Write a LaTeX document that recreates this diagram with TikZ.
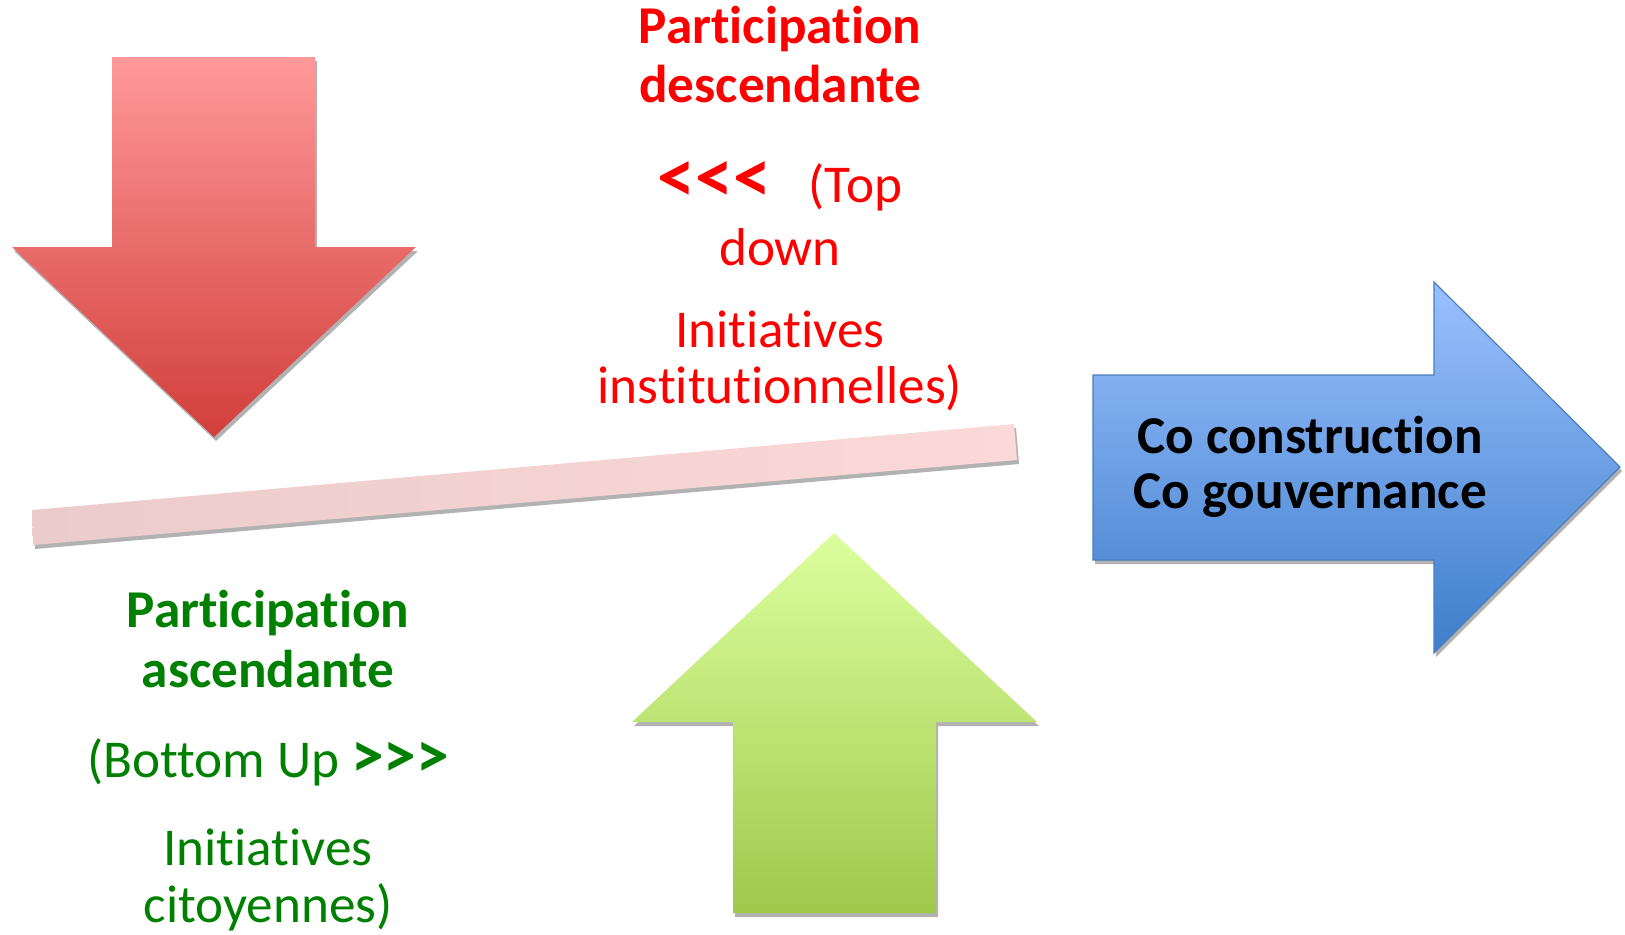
\documentclass[tikz,border=0pt]{standalone}
\usepackage{fontspec}
\setmainfont{Carlito}[Ligatures={TeXOff,NoCommon}]
\usetikzlibrary{shadows}
\definecolor{rougeH}{RGB}{255,153,153}
\definecolor{rougeB}{RGB}{209,62,58}
\definecolor{vertH}{RGB}{220,255,158}
\definecolor{vertB}{RGB}{160,200,75}
\definecolor{bleuH}{RGB}{154,192,254}
\definecolor{bleuB}{RGB}{62,126,203}
\definecolor{bleuT}{RGB}{74,126,187}
\definecolor{barreG}{RGB}{235,203,203}
\definecolor{barreD}{RGB}{252,217,217}
\definecolor{vertT}{RGB}{0,128,0}
\begin{document}
\begin{tikzpicture}[x=.5pt,y=-.5pt,line join=miter,
	font={\fontsize{26.6}{30}\selectfont},
	ombre/.style={drop shadow={shadow xshift=1pt,shadow yshift=-2pt,opacity=.3,fill=black}},
	txtd/.style={text=red,anchor=base},
	txta/.style={text=vertT,anchor=base},
	txtc/.style={text=black,anchor=base,font={\fontsize{26.6}{30}\selectfont\bfseries}}]
	\useasboundingbox (0,0) rectangle (1625,934);
	\def\xd{780} \def\xa{268} \def\xc{1310} % centres des textes
	% fleche descendante
	\path[ombre,top color=rougeH,bottom color=rougeB]
		(112,57)--(315,57)--(315,247)--(416,247)--(214,437)--(12,247)--(112,247)--cycle;
	% fleche montante
	\path[ombre,top color=vertH,bottom color=vertB]
		(733,913)--(733,722)--(632,722)--(834,533)--(1037,722)--(936,722)--(936,913)--cycle;
	% barre
	\path[ombre,left color=barreG,right color=barreD]
		(32,510)--(33,545)--(1017,460)--(1014,424)--cycle;
	% fleche co construction
	\draw[ombre,bleuT,line width=.6pt,top color=bleuH,bottom color=bleuB]
		(1093,375)--(1434,375)--(1434,282)--(1620,467)--(1434,653)--(1434,560)--(1093,560)--cycle;
	\foreach \y/\t [count=\i] in {43/{\textbf{Participation}},102/{\textbf{descendante}},
		202/{{\fontsize{38}{40}\selectfont\bfseries <<<}\hspace{.7em}(Top},265/{down},347/{Initiatives},403/{institutionnelles)}}
		\node[txtd] (d\i) at (\xd,\y) {\t};
	\foreach \y/\t [count=\i] in {627/{\textbf{Participation}},687/{\textbf{ascendante}},
		777/{(Bottom Up {\fontsize{32.7}{34}\selectfont\bfseries >>>}},865/{Initiatives},922/{citoyennes)}}
		\node[txta] (a\i) at (\xa,\y) {\t};
	\node[txtc] (c1) at (\xc,453) {Co construction};
	\node[txtc] (c2) at (\xc,508) {Co gouvernance};
\end{tikzpicture}
\end{document}
